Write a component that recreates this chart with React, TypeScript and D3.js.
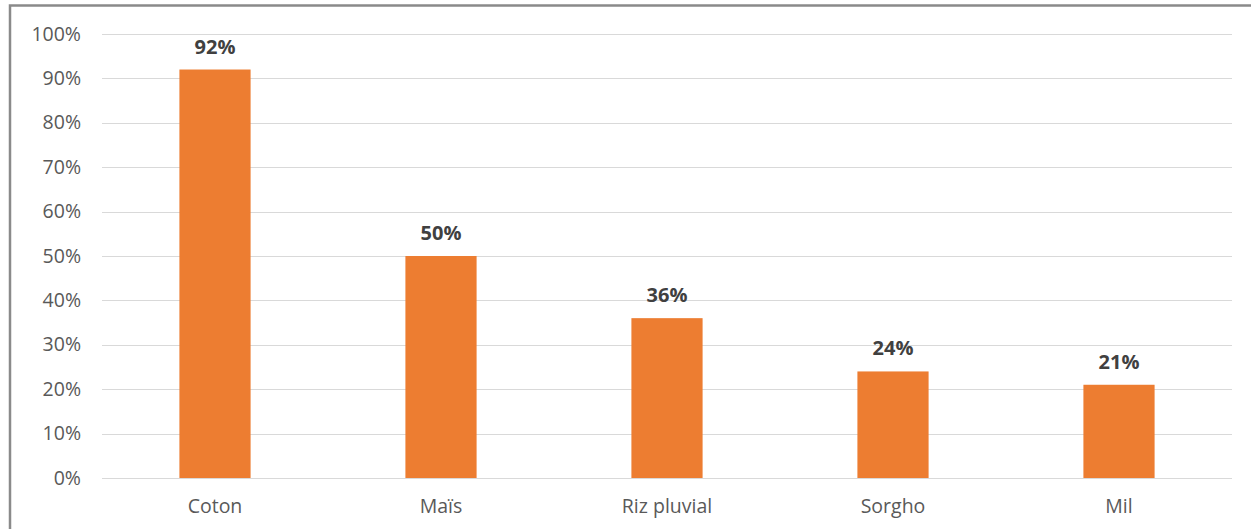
import React from "react";
import * as d3 from "d3";

const categories = ["Coton", "Maïs", "Riz pluvial", "Sorgho", "Mil"];
const values = [0.92, 0.5, 0.36, 0.24, 0.21];
const yTicks = [0, 0.1, 0.2, 0.3, 0.4, 0.5, 0.6, 0.7, 0.8, 0.9, 1.0];

const W = 1251;
const H = 529;
const FONT = "'Open Sans', 'DejaVu Sans', sans-serif";

export default function App() {
  const x = d3
    .scaleBand<string>()
    .domain(categories)
    .range([102, 1232])
    .paddingInner(0.685)
    .paddingOuter(0.3425);
  const y = d3.scaleLinear().domain([0, 1]).range([478, 34]);
  const pct = d3.format(".0%");

  return (
    <svg
      width={W}
      height={H}
      style={{ position: "absolute", left: 0, top: 0, background: "#fff" }}
    >
      <rect x={0} y={0} width={W} height={H} fill="#fff" />
      {/* outer frame */}
      <rect
        x={10}
        y={5.5}
        width={W + 20}
        height={H + 20}
        fill="none"
        stroke="#8a8a8a"
        strokeWidth={2.5}
      />
      {/* gridlines */}
      {yTicks.map((t) => (
        <line
          key={"g" + t}
          x1={102}
          x2={1232}
          y1={Math.round(y(t)) + 0.5}
          y2={Math.round(y(t)) + 0.5}
          stroke="#d9d9d9"
          strokeWidth={1}
        />
      ))}
      {/* y tick labels */}
      {yTicks.map((t) => (
        <text
          key={"t" + t}
          x={81}
          y={y(t) + 6.5}
          textAnchor="end"
          fontFamily={FONT}
          fontSize={19.5}
          fill="#595959"
        >
          {pct(t)}
        </text>
      ))}
      {/* bars */}
      {categories.map((c, i) => (
        <rect
          key={"b" + c}
          x={x(c)}
          y={y(values[i])}
          width={x.bandwidth()}
          height={y(0) - y(values[i])}
          fill="#ED7D31"
        />
      ))}
      {/* value labels */}
      {categories.map((c, i) => (
        <text
          key={"v" + c}
          x={(x(c) as number) + x.bandwidth() / 2}
          y={y(values[i]) - 16}
          textAnchor="middle"
          fontFamily={FONT}
          fontWeight="bold"
          fontSize={20}
          fill="#404040"
        >
          {pct(values[i])}
        </text>
      ))}
      {/* category labels */}
      {categories.map((c) => (
        <text
          key={"c" + c}
          x={(x(c) as number) + x.bandwidth() / 2}
          y={513}
          textAnchor="middle"
          fontFamily={FONT}
          fontSize={19.5}
          fill="#595959"
        >
          {c}
        </text>
      ))}
    </svg>
  );
}
